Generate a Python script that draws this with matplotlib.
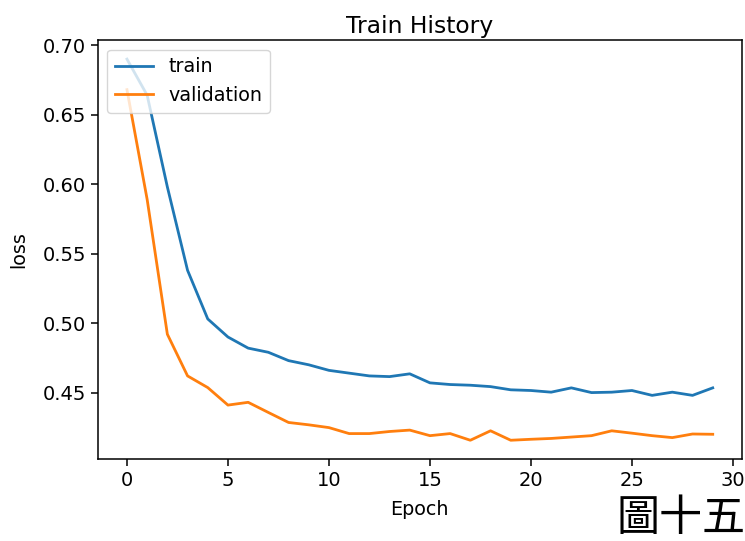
import matplotlib
matplotlib.use("Agg")
import matplotlib.pyplot as plt

epochs = list(range(30))
train_loss = [0.690, 0.664, 0.598, 0.538, 0.503, 0.490, 0.482, 0.479, 0.473, 0.470,
              0.466, 0.464, 0.462, 0.4615, 0.4635, 0.457, 0.4558, 0.4553, 0.4543, 0.452,
              0.4515, 0.4503, 0.4534, 0.450, 0.4503, 0.4515, 0.448, 0.4503, 0.448, 0.4534]
val_loss = [0.668, 0.589, 0.492, 0.462, 0.4536, 0.441, 0.443, 0.4357, 0.4285, 0.4268,
            0.4248, 0.4205, 0.4205, 0.422, 0.423, 0.419, 0.4205, 0.4157, 0.4225, 0.4157,
            0.4164, 0.417, 0.418, 0.419, 0.4225, 0.4208, 0.419, 0.4176, 0.4202, 0.420]
series_names = ["train", "validation"]
title = "Train History"
xlabel = "Epoch"
ylabel = "loss"
caption = "圖十五"

fig = plt.figure(figsize=(7.45, 5.41), dpi=100)
ax = fig.add_axes([0.1311, 0.151, 0.8649, 0.775])
ax.plot(epochs, train_loss, color="#1f77b4", lw=2.0, label=series_names[0])
ax.plot(epochs, val_loss, color="#ff7f0e", lw=2.0, label=series_names[1])
ax.set_title(title, fontsize=16.8, pad=5)
ax.set_xlabel(xlabel, fontsize=13.8, labelpad=7)
ax.set_ylabel(ylabel, fontsize=13.8, labelpad=10)
ax.tick_params(labelsize=14, length=5, width=1.1)
for s in ax.spines.values():
    s.set_linewidth(1.1)
ax.legend(loc="upper left", fontsize=13.8, borderaxespad=0.5)

fig.text(1.0, 0.0, caption, ha="right", va="bottom", fontsize=31,
         family=["Noto Sans CJK TC", "DejaVu Sans"], color="black")

fig.savefig("out.png", dpi=100)
